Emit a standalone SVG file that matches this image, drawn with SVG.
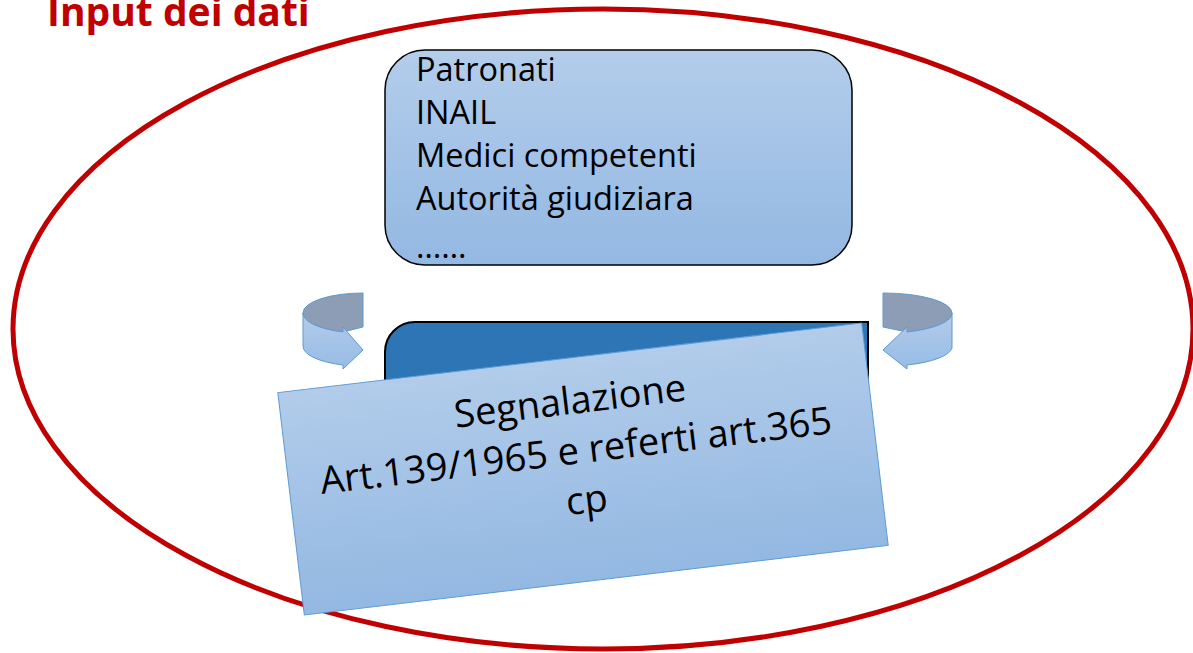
<svg xmlns="http://www.w3.org/2000/svg" width="1193" height="653" viewBox="0 0 1193 653">
<style>
.t{font-family:"Open Sans","DejaVu Sans",sans-serif;fill:#000}
.title{font-family:"Open Sans","DejaVu Sans",sans-serif;font-weight:bold;fill:#C00000}
.band{fill:url(#gBand);stroke:#5B9BD5;stroke-width:1}
.back{fill:#8C9DB5;stroke:#5B9BD5;stroke-width:1}
</style>
<defs>
<linearGradient id="gTop" x1="0" y1="0" x2="0" y2="1">
<stop offset="0" stop-color="#B3CDEB"/><stop offset="1" stop-color="#93B8E2"/>
</linearGradient>
<linearGradient id="gTilt" x1="0" y1="0" x2="0" y2="1">
<stop offset="0" stop-color="#B2CCEA"/><stop offset="1" stop-color="#93B8E2"/>
</linearGradient>
<linearGradient id="gBand" x1="0" y1="0" x2="0" y2="1">
<stop offset="0" stop-color="#B4CBEA"/><stop offset="1" stop-color="#97BCE5"/>
</linearGradient>
</defs>
<rect width="1193" height="653" fill="#fff"/>
<g id="frame">
<ellipse cx="603" cy="329" rx="590" ry="320" fill="none" stroke="#C00000" stroke-width="5"/>
</g>
<g id="title"><text class="title" x="47" y="26" font-size="39">Input dei dati</text></g>
<g id="sources">
<rect x="385" y="50" width="467" height="215" rx="40" fill="url(#gTop)" stroke="#000" stroke-width="1.5"/>
<text class="t" font-size="32.5" x="416">
<tspan x="416" y="81">Patronati</tspan>
<tspan x="416" y="124">INAIL</tspan>
<tspan x="416" y="167">Medici competenti</tspan>
<tspan x="416" y="210">Autorità giudiziara</tspan>
<tspan x="416" y="258">……</tspan>
</text>
</g>
<g id="connectors">
<g id="arrow-left">
<path class="back" d="M363,293 A60,20 0 0 0 303,313 A60,20 0 0 0 343,332 L363,327 Z"/>
<path class="band" d="M303,313 A60,20 0 0 0 343,332 L343,327 L363,350 L343,369 L343,365 A60,20 0 0 1 303,346 Z"/>
</g>
<g id="arrow-right">
<path class="back" d="M883,293 A69,20 0 0 1 952,313 A69,20 0 0 1 907,332 L883,327 Z"/>
<path class="band" d="M952,313 A69,20 0 0 1 907,332 L907,327 L883,350 L907,369 L907,365 A69,20 0 0 0 952,348 Z"/>
</g>
</g>
<g id="register">
<path d="M415,322 L868,322 L868,520 L385,520 L385,352 A30,30 0 0 1 415,322 Z" fill="#2E75B6" stroke="#000" stroke-width="2"/>
</g>
<g id="segnalazione" transform="rotate(-6.8 583 469)">
<rect x="289" y="357" width="588" height="224" fill="url(#gTilt)" stroke="#5B9BD5" stroke-width="1"/>
<text class="t" font-size="38" text-anchor="middle">
<tspan x="583" y="413">Segnalazione</tspan>
<tspan x="583" y="463">Art.139/1965 e referti art.365</tspan>
<tspan x="583" y="513">cp</tspan>
</text>
</g>
</svg>
